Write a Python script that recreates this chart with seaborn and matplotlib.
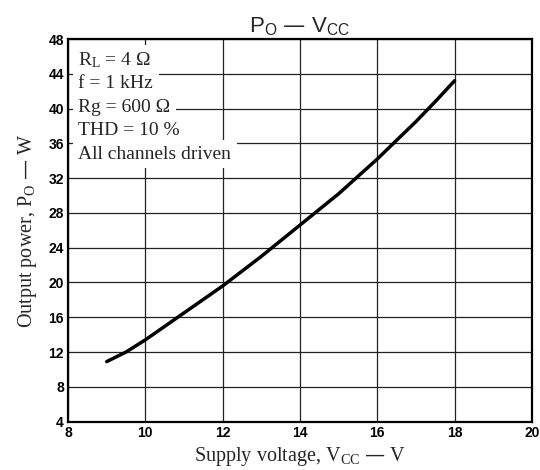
import pandas as pd
import matplotlib.pyplot as plt
import seaborn as sns

# values
vcc = [9.0, 9.5, 10.0, 11.0, 12.0, 13.0, 14.0, 15.0, 16.0, 17.0, 17.5, 18.0]
po = [10.9, 12.0, 13.4, 16.5, 19.6, 23.0, 26.6, 30.2, 34.2, 38.5, 40.8, 43.2]

x_ticks = [8, 10, 12, 14, 16, 18, 20]
y_ticks = [4, 8, 12, 16, 20, 24, 28, 32, 36, 40, 44, 48]

conditions = [
    r"R$\mathregular{_L}$ = 4 Ω",
    "f = 1 kHz",
    "Rg = 600 Ω",
    "THD = 10 %",
    "All channels driven",
]

df = pd.DataFrame({"vcc": vcc, "po": po})

sns.set_style("whitegrid")
plt.rcParams["font.family"] = ["Liberation Sans", "DejaVu Sans"]

fig = plt.figure(figsize=(5.4, 4.7), dpi=100)
ax = fig.add_axes([0.126, 0.103, 0.859, 0.814])

sns.lineplot(data=df, x="vcc", y="po", color="black", linewidth=2.5, ax=ax)

ax.set_xlim(8, 20)
ax.set_ylim(4, 48)
ax.set_xticks(x_ticks)
ax.set_yticks(y_ticks)
ax.grid(True, color="#222222", linewidth=0.9)
for s in ax.spines.values():
    s.set_color("black")
    s.set_linewidth(1.6)
ax.tick_params(axis="both", length=0, pad=3, labelsize=10, labelcolor="black")
for lbl in ax.get_xticklabels() + ax.get_yticklabels():
    lbl.set_fontweight("bold")

serif = ["Liberation Serif", "DejaVu Serif"]
ax.set_xlabel(r"Supply voltage, V$\mathregular{_{CC}}$ — V", family=serif,
              fontsize=14.5, labelpad=4)
ax.set_ylabel(r"Output power, P$\mathregular{_O}$ — W", family=serif,
              fontsize=14.5, labelpad=7)
ax.set_title(r"P$\mathregular{_O}$ — V$\mathregular{_{CC}}$", fontsize=16, pad=5)

# condition block, each line blanks the grid behind it
for i, line in enumerate(conditions):
    ax.text(0.022, 0.945 - i * 0.0614, line, transform=ax.transAxes, family=serif,
            fontsize=14, va="center", ha="left",
            bbox=dict(facecolor="white", edgecolor="none", pad=4.0))

fig.savefig("out.png", dpi=100)
